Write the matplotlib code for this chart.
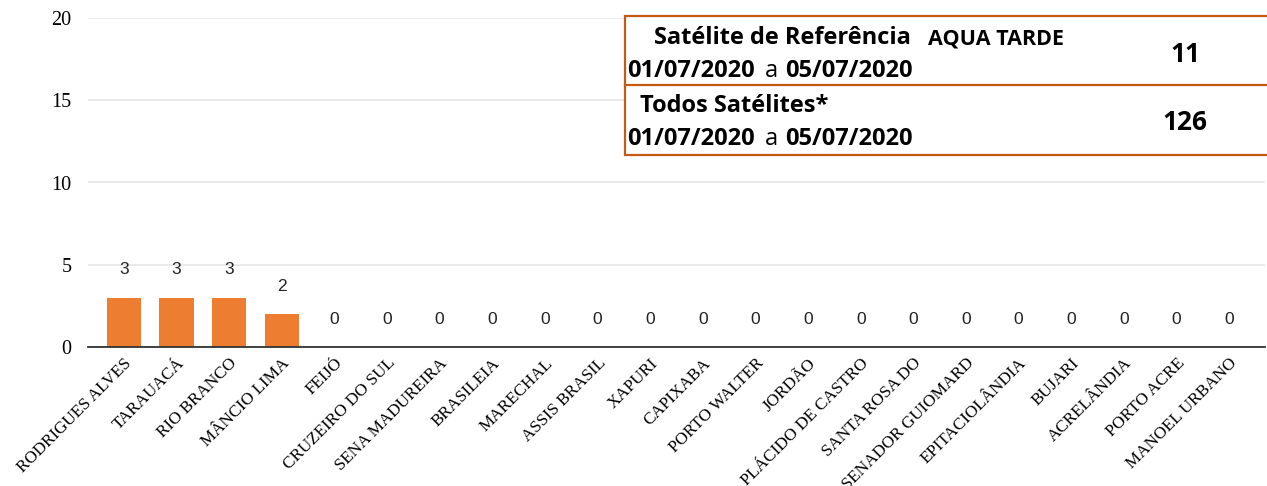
import matplotlib.pyplot as plt
from matplotlib.patches import Rectangle
from matplotlib.lines import Line2D

# municipalities and focus counts
municipios = ["RODRIGUES ALVES", "TARAUACÁ", "RIO BRANCO", "MÂNCIO LIMA", "FEIJÓ",
              "CRUZEIRO DO SUL", "SENA MADUREIRA", "BRASILEIA", "MARECHAL",
              "ASSIS BRASIL", "XAPURI", "CAPIXABA", "PORTO WALTER", "JORDÃO",
              "PLÁCIDO DE CASTRO", "SANTA ROSA DO", "SENADOR GUIOMARD",
              "EPITACIOLÂNDIA", "BUJARI", "ACRELÂNDIA", "PORTO ACRE", "MANOEL URBANO"]
focos = [3, 3, 3, 2, 0, 0, 0, 0, 0, 0, 0, 0, 0, 0, 0, 0, 0, 0, 0, 0, 0, 0]
yticks = [0, 5, 10, 15, 20]

# summary box
periodo_ini = "01/07/2020"
periodo_fim = "05/07/2020"
total_ref = 11
total_todos = 126

W, H = 1267, 486
fig = plt.figure(figsize=(W / 100, H / 100), dpi=100)
ax = fig.add_axes([88 / W, 1 - 347 / H, (1265 - 88) / W, (347 - 18) / H])

x = range(len(municipios))
bars = ax.bar(x, focos, width=0.65, color="#ED7D31", zorder=3)
for xi, v in zip(x, focos):
    ax.annotate(str(v), (xi, v), xytext=(0, 20), textcoords="offset points",
                ha="center", va="center", fontsize=12.5, family="Liberation Sans",
                color="#222222")

ax.set_xlim(-0.68, len(municipios) - 1 + 0.68)
ax.set_ylim(0, 20)
ax.set_yticks(yticks)
ax.set_yticklabels([str(t) for t in yticks], family="Liberation Serif", fontsize=14.5)
ax.set_xticks(list(x))
ax.set_xticklabels(municipios, rotation=45, ha="right", rotation_mode="anchor",
                   family="Liberation Serif", fontsize=12.3)
ax.tick_params(axis="both", length=0)
ax.tick_params(axis="y", pad=12)
ax.tick_params(axis="x", pad=6)
ax.grid(axis="y", color="#E6E6EA", linewidth=1.2, zorder=0)
for s in ["top", "right", "left"]:
    ax.spines[s].set_visible(False)
ax.spines["bottom"].set_color("#333333")
ax.spines["bottom"].set_linewidth(1.3)
ax.spines["bottom"].set_zorder(4)

# box with summary
def fx(px):
    return px / W

def fy(py):
    return 1 - py / H

orange = "#C55A11"
fig.add_artist(Rectangle((fx(625), fy(155)), fx(W + 5) - fx(625), fy(16) - fy(155),
                         transform=fig.transFigure, fill=True, facecolor="white",
                         edgecolor=orange, linewidth=1.6, zorder=5))
fig.add_artist(Line2D([fx(625), fx(W)], [fy(85), fy(85)], transform=fig.transFigure,
                      color=orange, linewidth=1.6, zorder=6))

fnt = "Open Sans"
fig.text(fx(654), fy(38), "Satélite de Referência", fontsize=17, fontweight="bold",
         family=fnt, va="center", ha="left", zorder=7)
fig.text(fx(928), fy(39), "AQUA TARDE", fontsize=15.5, fontweight="bold",
         family=fnt, va="center", ha="left", zorder=7)
fig.text(fx(640), fy(106), "Todos Satélites*", fontsize=17, fontweight="bold",
         family=fnt, va="center", ha="left", zorder=7)
for yy in (71, 139):
    fig.text(fx(627), fy(yy), periodo_ini, fontsize=17, fontweight="bold",
             family=fnt, va="center", ha="left", zorder=7)
    fig.text(fx(765), fy(yy), "a", fontsize=17, family=fnt, va="center",
             ha="left", zorder=7)
    fig.text(fx(785), fy(yy), periodo_fim, fontsize=17, fontweight="bold",
             family=fnt, va="center", ha="left", zorder=7)
fig.text(fx(1185), fy(55), str(total_ref), fontsize=19, fontweight="bold",
         family=fnt, va="center", ha="center", zorder=7)
fig.text(fx(1185), fy(122), str(total_todos), fontsize=19, fontweight="bold",
         family=fnt, va="center", ha="center", zorder=7)

fig.savefig("out.png", dpi=100)
